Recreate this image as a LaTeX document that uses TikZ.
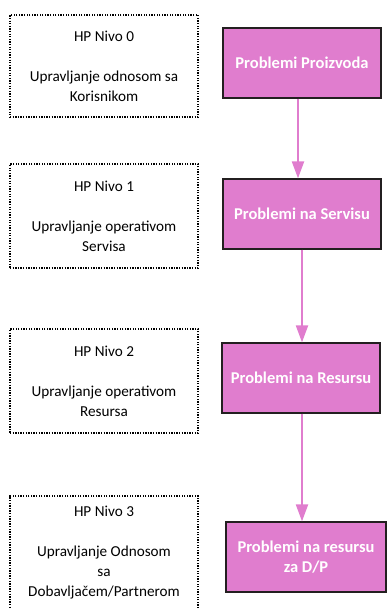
\documentclass[tikz,border=0pt]{standalone}
\usepackage{fontspec}
\setmainfont{Carlito}
\usetikzlibrary{arrows.meta}
\definecolor{pinkfill}{HTML}{E07DCE}
\definecolor{pinkline}{HTML}{E07DCE}
\definecolor{edge}{HTML}{231F20}
\begin{document}
\begin{tikzpicture}[x=1pt,y=-1pt,
  levelbox/.style={draw=black, line width=1.3pt, dash pattern=on 1.3pt off 1.3pt,
    minimum width=188pt, inner sep=0pt, align=center,
    font=\fontsize{15.2}{20}\selectfont, text=black},
  probbox/.style={draw=edge, line width=1.2pt, fill=pinkfill,
    minimum width=158pt, minimum height=70pt, inner sep=0pt, align=center,
    font=\fontsize{16.5}{20}\selectfont\bfseries, text=white},
  flow/.style={draw=pinkline, line width=2pt, -{Triangle[length=17pt,width=12pt]}}]
\useasboundingbox (0,0) rectangle (387,608);
\begin{scope}
\clip (0,0) rectangle (387,608);
\node[levelbox, minimum height=102pt] (l0) at (104,66) {HP Nivo 0\\[20pt]Upravljanje odnosom sa\\Korisnikom};
\node[levelbox, minimum height=104pt] (l1) at (104,216) {HP Nivo 1\\[20pt]Upravljanje operativom\\Servisa};
\node[levelbox, minimum height=104pt] (l2) at (104,381) {HP Nivo 2\\[20pt]Upravljanje operativom\\Resursa};
\node[levelbox, minimum height=114pt] (l3) at (104,553) {HP Nivo 3\\[20pt]Upravljanje Odnosom\\sa\\Dobavljačem/Partnerom};
\end{scope}
\node[probbox] (p0) at (302,63) {Problemi Proizvoda};
\node[probbox] (p1) at (302,214) {Problemi na Servisu};
\node[probbox] (p2) at (301,378) {Problemi na Resursu};
\node[probbox, minimum width=160pt] (p3) at (306,557) {Problemi na resursu\\za D/P};
\draw[flow] (p0.south -| 298,0) -- (p1.north -| 298,0);
\draw[flow] (p1.south -| 302,0) -- (p2.north -| 302,0);
\draw[flow] (p2.south -| 302,0) -- (p3.north -| 302,0);
\end{tikzpicture}
\end{document}
